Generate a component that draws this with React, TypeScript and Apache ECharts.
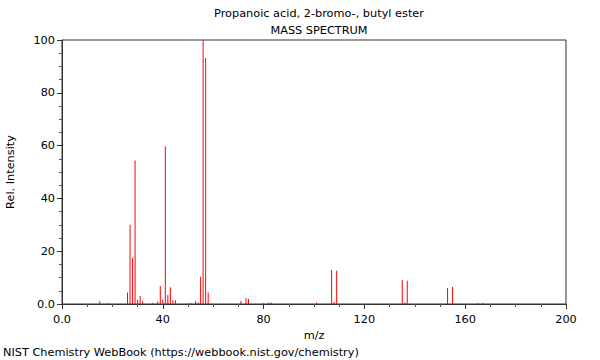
import React, { useEffect, useRef } from "react";
import * as echarts from "echarts";

const titleText = "Propanoic acid, 2-bromo-, butyl ester";
const subtitleText = "MASS SPECTRUM";
const footerText = "NIST Chemistry WebBook (https://webbook.nist.gov/chemistry)";

const mz = [15, 18, 26, 27, 28, 29, 30, 31, 32, 36, 38, 39, 40, 41, 42, 43, 44, 45, 50, 51, 53, 54, 55, 56, 57, 58, 71, 73, 74, 80, 82, 83, 101, 107, 108, 109, 135, 136, 137, 153, 155, 165, 167];
const intensity = [1.0, 0.3, 4.4, 30, 17.3, 54.4, 1.5, 3.0, 0.9, 0.5, 0.9, 6.8, 1.7, 59.8, 3.4, 6.3, 1.4, 1.4, 0.3, 0.3, 1.0, 0.7, 10.3, 100, 93.2, 4.4, 1.1, 2.2, 1.9, 0.3, 0.5, 0.6, 0.6, 13.0, 0.8, 12.6, 9.1, 0.6, 8.8, 6.1, 6.4, 0.4, 0.4];

const xTicks = { min: 0, max: 200, interval: 40 };
const yTicks = { min: 0, max: 100, interval: 20 };

const FONT = "DejaVu Sans";
const FS = 11.3;

export default function App() {
  const ref = useRef<HTMLDivElement>(null);
  useEffect(() => {
    if (!ref.current) return;
    const chart = echarts.init(ref.current, undefined, { renderer: "svg" });
    const fmt = (v: number) => (v === 0 ? "0.0" : String(v));
    chart.setOption({
      animation: false,
      backgroundColor: "#ffffff",
      textStyle: { fontFamily: FONT },
      title: [
        {
          text: titleText,
          left: 314,
          top: 3,
          textAlign: "center",
          textStyle: { fontFamily: FONT, fontSize: FS, fontWeight: "normal", color: "#000" },
        },
        {
          text: subtitleText,
          left: 314,
          top: 20,
          textAlign: "center",
          textStyle: { fontFamily: FONT, fontSize: FS, fontWeight: "normal", color: "#000" },
        },
      ],
      grid: {
        left: 62,
        right: 34,
        top: 40,
        bottom: 56,
        containLabel: false,
        outerBoundsMode: "none",
        show: true,
        borderColor: "#333",
        borderWidth: 1,
        backgroundColor: "transparent",
      },
      xAxis: {
        type: "value",
        min: xTicks.min,
        max: xTicks.max,
        interval: xTicks.interval,
        name: "m/z",
        nameLocation: "middle",
        nameGap: 24,
        nameTextStyle: { fontFamily: FONT, fontSize: FS, color: "#000" },
        axisLine: { show: true, lineStyle: { color: "#333", width: 1 } },
        axisTick: { show: true, inside: false, length: 5, lineStyle: { color: "#333" } },
        minorTick: { show: true, splitNumber: 4, length: 3, lineStyle: { color: "#555" } },
        splitLine: { show: false },
        axisLabel: { formatter: fmt, margin: 10, fontFamily: FONT, fontSize: FS, color: "#000" },
      },
      yAxis: {
        type: "value",
        min: yTicks.min,
        max: yTicks.max,
        interval: yTicks.interval,
        name: "Rel. Intensity",
        nameLocation: "middle",
        nameGap: 46,
        nameRotate: 90,
        nameTextStyle: { fontFamily: FONT, fontSize: FS, color: "#000" },
        axisLine: { show: true, lineStyle: { color: "#333", width: 1 } },
        axisTick: { show: true, inside: false, length: 5, lineStyle: { color: "#333" } },
        minorTick: { show: true, splitNumber: 4, length: 3, lineStyle: { color: "#555" } },
        splitLine: { show: false },
        axisLabel: { formatter: fmt, margin: 7, fontFamily: FONT, fontSize: FS, color: "#000" },
      },
      series: [
        {
          type: "bar",
          data: mz.map((m, i) => [m, intensity[i]]),
          barWidth: 1,
          itemStyle: { color: "#ff0000" },
          silent: true,
        },
      ],
      graphic: [
        {
          type: "text",
          left: 3,
          top: 347,
          style: { text: footerText, fontFamily: FONT, fontSize: FS, fill: "#000" },
        },
      ],
    });
    return () => chart.dispose();
  }, []);
  return (
    <div
      ref={ref}
      style={{ width: 600, height: 360, position: "fixed", left: 0, top: 0 }}
    />
  );
}
